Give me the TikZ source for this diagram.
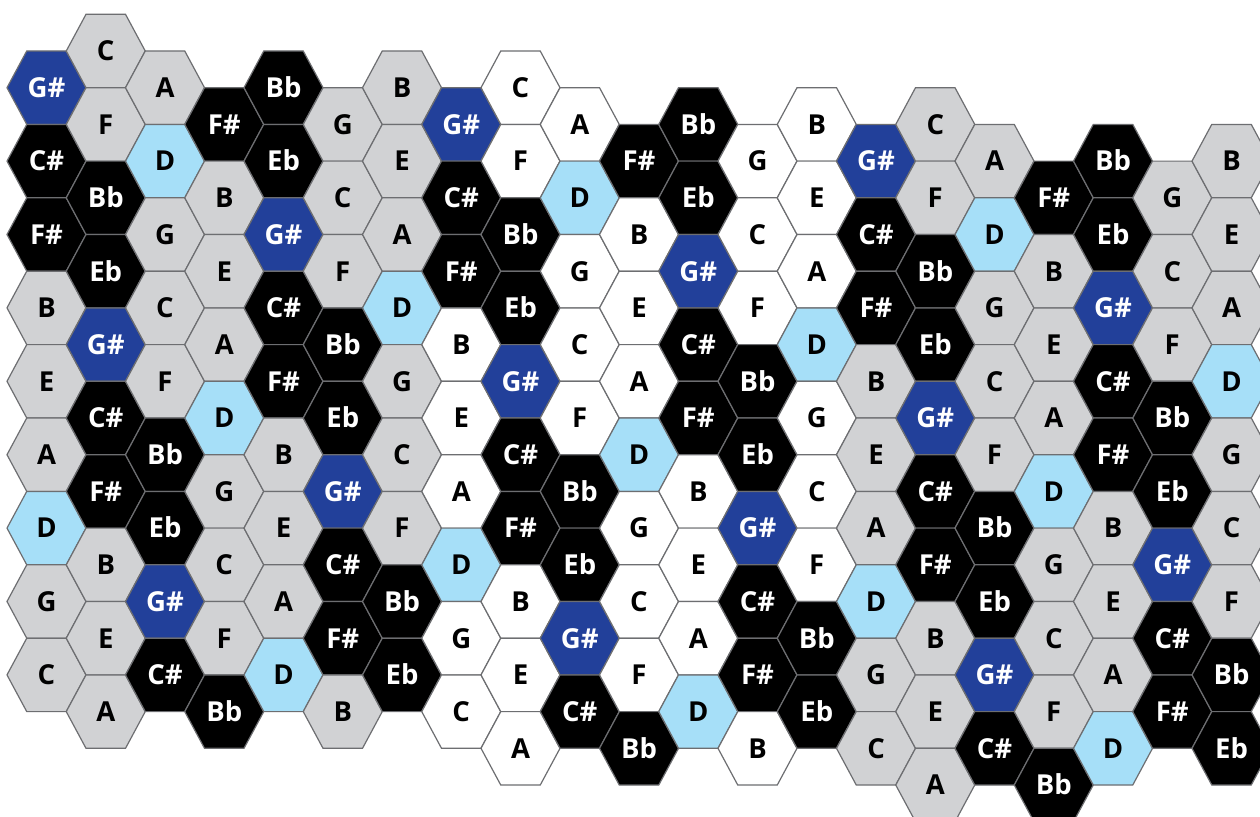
\documentclass[tikz,border=0pt]{standalone}
\usepackage{fontspec}
\setmainfont{Open Sans}
\definecolor{hexgray}{HTML}{D1D2D4}
\definecolor{hexblue}{HTML}{22409A}
\definecolor{hexlight}{HTML}{A6DFF8}
\definecolor{hexedge}{HTML}{6D6E71}
\def\lblC{C}\def\lblD{D}\def\lblE{E}\def\lblF{F}\def\lblG{G}\def\lblA{A}\def\lblB{B}
\def\lblGs{G\#}\def\lblCs{C\#}\def\lblFs{F\#}\def\lblBb{Bb}\def\lblEb{Eb}
\tikzset{
  hexline/.style={draw=hexedge,line width=1.2pt,line join=miter},
  notefont/.style={font=\fontsize{27.5}{27.5}\selectfont\bfseries,inner sep=0pt,text height=19.6pt,text depth=0pt},
  cell-C/.style={natural,text=black},
  cell-E/.style={natural,text=black},
  cell-F/.style={natural,text=black},
  cell-G/.style={natural,text=black},
  cell-A/.style={natural,text=black},
  cell-B/.style={natural,text=black},
  cell-D/.style={fill=hexlight,text=black},
  cell-Gs/.style={fill=hexblue,text=white},
  cell-Cs/.style={fill=black,text=white},
  cell-Fs/.style={fill=black,text=white},
  cell-Bb/.style={fill=black,text=white},
  cell-Eb/.style={fill=black,text=white},
}
\begin{document}
\begin{tikzpicture}[x=1pt,y=-1pt]
\clip (0,0) rectangle (1260,816);
\fill[white] (0,0) rectangle (1260,816);
\foreach \c/\k/\bg/\notes in {
 0/2/hexgray/{Gs,Cs,Fs,B,E,A,D,G,C},
 1/1/hexgray/{C,F,Bb,Eb,Gs,Cs,Fs,B,E,A},
 2/2/hexgray/{A,D,G,C,F,Bb,Eb,Gs,Cs},
 3/3/hexgray/{Fs,B,E,A,D,G,C,F,Bb},
 4/2/hexgray/{Bb,Eb,Gs,Cs,Fs,B,E,A,D},
 5/3/hexgray/{G,C,F,Bb,Eb,Gs,Cs,Fs,B},
 6/2/hexgray/{B,E,A,D,G,C,F,Bb,Eb},
 7/3/white/{Gs,Cs,Fs,B,E,A,D,G,C},
 8/2/white/{C,F,Bb,Eb,Gs,Cs,Fs,B,E,A},
 9/3/white/{A,D,G,C,F,Bb,Eb,Gs,Cs},
 10/4/white/{Fs,B,E,A,D,G,C,F,Bb},
 11/3/white/{Bb,Eb,Gs,Cs,Fs,B,E,A,D},
 12/4/white/{G,C,F,Bb,Eb,Gs,Cs,Fs,B},
 13/3/white/{B,E,A,D,G,C,F,Bb,Eb},
 14/4/hexgray/{Gs,Cs,Fs,B,E,A,D,G,C},
 15/3/hexgray/{C,F,Bb,Eb,Gs,Cs,Fs,B,E,A},
 16/4/hexgray/{A,D,G,C,F,Bb,Eb,Gs,Cs},
 17/5/hexgray/{Fs,B,E,A,D,G,C,F,Bb},
 18/4/hexgray/{Bb,Eb,Gs,Cs,Fs,B,E,A,D},
 19/5/hexgray/{G,C,F,Bb,Eb,Gs,Cs,Fs},
 20/4/hexgray/{B,E,A,D,G,C,F,Bb,Eb}}{
  \begin{scope}[natural/.style={fill=\bg}]
  \foreach \n [count=\i from 0] in \notes {
    \pgfmathsetmacro\x{46.5+59.25*\c}
    \pgfmathsetmacro\y{14.3+36.7*(\k+2*\i)}
    \path[hexline,cell-\n] (\x-39.5,\y) -- (\x-19.75,\y-36.7) -- (\x+19.75,\y-36.7)
      -- (\x+39.5,\y) -- (\x+19.75,\y+36.7) -- (\x-19.75,\y+36.7) -- cycle;
    \node[notefont,cell-\n,fill=none,draw=none] (h-\c-\i) at (\x,\y) {\csname lbl\n\endcsname};
  }
  \end{scope}
}
\end{tikzpicture}
\end{document}
